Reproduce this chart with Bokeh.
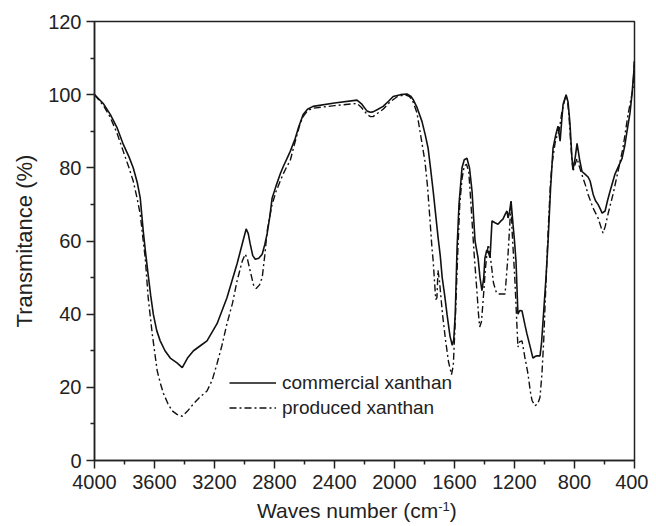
from bokeh.plotting import figure
from bokeh.models import Range1d, FixedTicker, Legend, LegendItem, Div
from bokeh.layouts import column
from bokeh.embed import file_html
from bokeh.resources import INLINE

# ---- data ----
commercial_x = [4000, 3940, 3895, 3850, 3808, 3770, 3742, 3715, 3695, 3675, 3660, 3643, 3625, 3608, 3585, 3562, 3530, 3495, 3450, 3415, 3380, 3340, 3290, 3250, 3183, 3117, 3050, 3010, 2989, 2975, 2962, 2945, 2928, 2905, 2882, 2865, 2849, 2830, 2816, 2790, 2762, 2740, 2717, 2695, 2662, 2640, 2609, 2580, 2543, 2400, 2250, 2220, 2183, 2160, 2143, 2110, 2076, 2040, 2009, 1960, 1917, 1890, 1876, 1850, 1817, 1795, 1776, 1760, 1742, 1725, 1709, 1695, 1682, 1665, 1650, 1630, 1615, 1605, 1595, 1583, 1570, 1550, 1535, 1517, 1500, 1483, 1463, 1443, 1430, 1417, 1405, 1397, 1385, 1377, 1363, 1350, 1330, 1310, 1290, 1277, 1260, 1250, 1243, 1233, 1223, 1210, 1200, 1190, 1177, 1165, 1150, 1130, 1117, 1095, 1077, 1060, 1050, 1030, 1020, 1010, 990, 976, 960, 943, 925, 910, 896, 885, 876, 856, 843, 830, 817, 810, 796, 783, 765, 750, 730, 710, 696, 676, 660, 643, 625, 616, 596, 580, 563, 530, 500, 483, 465, 450, 430, 417, 405, 400]
commercial_y = [100, 97.5, 94.6, 91, 86.4, 83, 80, 76, 71.7, 62.7, 57, 51, 45, 40, 35.5, 32.7, 30, 28, 26.7, 25.4, 28, 30, 31.5, 32.7, 37.4, 44.5, 53.7, 60, 63.3, 62, 59.2, 56, 55, 55.3, 56.4, 59, 62, 67, 71.7, 75, 78.3, 80.5, 82.5, 84.5, 88, 91, 94.6, 96, 96.8, 97.7, 98.5, 97.5, 95.5, 95.2, 95.3, 96, 96.8, 98.2, 99.5, 100, 100.2, 99.5, 98.7, 96.5, 92.7, 89, 85.4, 80, 73.6, 67, 60.8, 56, 50, 45, 40, 34, 31.5, 33, 40, 58, 70, 80, 82.2, 82.6, 80, 73.6, 60, 55.4, 50, 46.4, 50, 55.4, 57.5, 57.3, 55.4, 65.5, 65, 64.6, 65.5, 66, 67.5, 68.2, 66.3, 68, 70.9, 64.6, 60, 54.5, 40, 41, 40.9, 37, 34.6, 31, 28, 28.5, 28.6, 28.6, 32, 38, 50, 60, 74, 85.4, 89, 91.4, 87.3, 93, 97.4, 100, 98, 92, 82.6, 79.6, 82.6, 86.7, 82, 79, 78.3, 77.5, 76.4, 72.8, 71, 70, 68.5, 67.6, 68.2, 71, 73.6, 78.3, 81, 82.6, 86, 90, 95, 100, 106, 109]

produced_x = [4000, 3940, 3895, 3850, 3808, 3770, 3742, 3715, 3695, 3675, 3662, 3642, 3615, 3582, 3560, 3540, 3510, 3483, 3450, 3415, 3380, 3340, 3300, 3250, 3215, 3183, 3150, 3117, 3080, 3050, 3015, 2995, 2980, 2962, 2940, 2922, 2900, 2882, 2865, 2849, 2830, 2816, 2790, 2762, 2740, 2717, 2695, 2670, 2650, 2630, 2609, 2580, 2543, 2400, 2250, 2220, 2183, 2160, 2143, 2110, 2076, 2030, 1980, 1930, 1900, 1876, 1850, 1830, 1810, 1797, 1780, 1763, 1750, 1742, 1735, 1725, 1717, 1710, 1700, 1680, 1660, 1640, 1620, 1608, 1595, 1580, 1565, 1550, 1535, 1520, 1505, 1490, 1470, 1450, 1440, 1432, 1420, 1405, 1395, 1385, 1375, 1362, 1350, 1340, 1320, 1300, 1263, 1245, 1230, 1223, 1215, 1197, 1185, 1177, 1165, 1150, 1130, 1110, 1095, 1083, 1063, 1045, 1030, 1017, 1005, 997, 976, 960, 950, 930, 915, 903, 885, 863, 850, 838, 823, 810, 796, 783, 765, 743, 725, 710, 676, 643, 625, 610, 595, 577, 543, 510, 477, 443, 410, 400]
produced_y = [100, 97, 93.8, 89.5, 84.5, 80, 76.4, 71.5, 67.3, 60, 55.4, 44.5, 34.6, 24.5, 21, 18.3, 15.5, 13.6, 12.6, 12.1, 13.5, 15.5, 17.2, 19, 22, 26.5, 31.5, 37.4, 43, 49, 54.5, 56.4, 55, 51.8, 48, 47, 48, 50, 56, 62.7, 67, 70, 73.5, 76.4, 78.5, 80.4, 82, 86, 89, 92, 94, 95.6, 96.3, 97, 97.6, 96.5, 94.6, 94, 94, 95, 96, 98, 99.5, 100, 99.5, 98, 95, 90, 85, 81.8, 75, 65.5, 58, 54.5, 50, 44, 44.5, 52, 49, 40, 33, 27, 23.5, 26, 38, 55, 70, 77, 80.5, 81, 79, 70, 57, 46, 40, 36.5, 38, 46, 52, 56, 59, 56, 52, 48.5, 45.8, 45.5, 45.5, 55, 65.5, 69.5, 62, 49, 38, 31, 32.5, 32.7, 28, 23.7, 19, 16.4, 15, 15.5, 17.3, 23.7, 33, 41.7, 62.7, 76, 81, 86.7, 89, 90, 95, 99, 99.5, 95, 85.4, 79, 81, 82.6, 80, 77.2, 75, 72.8, 69, 66.3, 64, 62.2, 64, 67.3, 72.8, 79, 85.4, 94.6, 101.7, 110]

x_ticks = [4000, 3600, 3200, 2800, 2400, 2000, 1600, 1200, 800, 400]
x_minor = [3800, 3400, 3000, 2600, 2200, 1800, 1400, 1000, 600]
y_ticks = [0, 20, 40, 60, 80, 100, 120]
y_minor = [10, 30, 50, 70, 90, 110]

series_names = ["commercial xanthan", "produced xanthan"]
y_title = "Transmitance (%)"
x_title_main = "Waves number (cm"
x_title_sup = "-1"
x_title_end = ")"

FONT = "Liberation Sans"

p = figure(width=648, height=496, output_backend="svg", toolbar_location=None,
           x_range=Range1d(4000, 400), y_range=Range1d(0, 120),
           min_border_left=94, min_border_right=14, min_border_top=21, min_border_bottom=36)
p.background_fill_color = "white"
p.border_fill_color = "white"
p.outline_line_color = "#222222"
p.outline_line_width = 1.5
p.xgrid.visible = False
p.ygrid.visible = False

for ax, ticks, minor in ((p.xaxis[0], x_ticks, x_minor), (p.yaxis[0], y_ticks, y_minor)):
    ax.ticker = FixedTicker(ticks=ticks, minor_ticks=minor)
    ax.axis_line_color = "#222222"
    ax.axis_line_width = 1.5
    ax.major_tick_line_color = "#222222"
    ax.major_tick_line_width = 1.5
    ax.minor_tick_line_color = "#222222"
    ax.minor_tick_line_width = 1.5
    ax.major_tick_in = 0
    ax.major_tick_out = 8
    ax.minor_tick_in = 0
    ax.minor_tick_out = 4
    ax.major_label_text_font = FONT
    ax.major_label_text_font_size = "20px"
    ax.major_label_text_color = "#222222"

p.xaxis.major_label_standoff = 6
p.yaxis.major_label_standoff = 5
p.xaxis.axis_label = None
p.yaxis.axis_label = y_title
p.yaxis.axis_label_text_font = FONT
p.yaxis.axis_label_text_font_size = "22px"
p.yaxis.axis_label_text_font_style = "normal"
p.yaxis.axis_label_text_color = "#222222"
p.yaxis.axis_label_standoff = 8

r1 = p.line(commercial_x, commercial_y, line_color="#111111", line_width=1.6)
r2 = p.line(produced_x, produced_y, line_color="#111111", line_width=1.4, line_dash="7 3 2 3")

legend = Legend(items=[LegendItem(label=series_names[0], renderers=[r1]),
                       LegendItem(label=series_names[1], renderers=[r2])],
                location=(135, 40), orientation="vertical",
                padding=0, margin=0, spacing=0,
                glyph_width=47, glyph_height=25, label_height=25, label_standoff=6,
                label_text_font=FONT, label_text_font_size="19px", label_text_color="#222222",
                border_line_alpha=0, background_fill_alpha=0)
p.add_layout(legend, "center")

x_title = Div(
    text=f'{x_title_main}<sup style="font-size:13px; line-height:0; vertical-align:0.55em">{x_title_sup}</sup>{x_title_end}',
    width=648, height=28, margin=(0, 0, 0, 0),
    styles={"font-family": FONT, "font-size": "21px", "color": "#222222",
            "padding-left": "257px", "padding-top": "2px", "line-height": "26px",
            "white-space": "nowrap"})

layout = column(p, x_title, spacing=0)
open("out.html", "w").write(file_html(layout, INLINE))
